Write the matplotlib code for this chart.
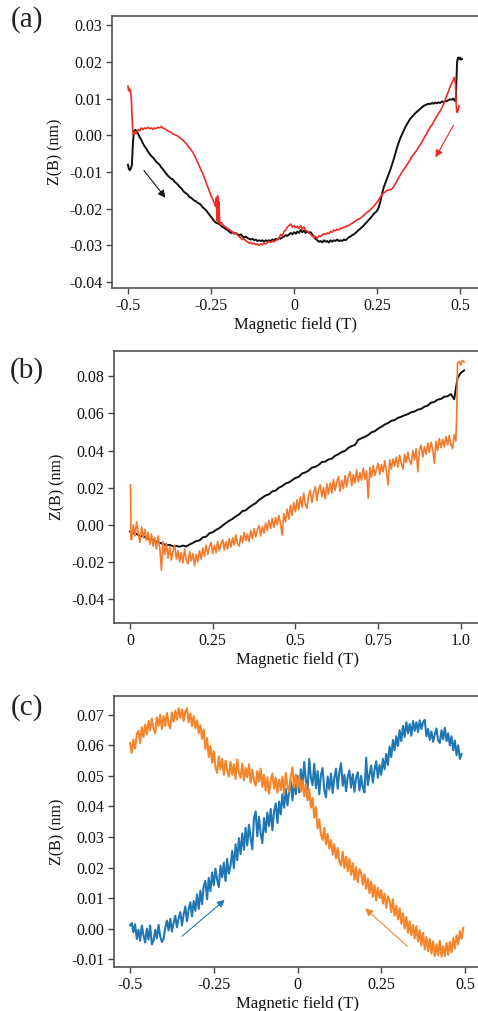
import numpy as np
import matplotlib
matplotlib.use("Agg")
import matplotlib.pyplot as plt

plt.rcParams['font.family'] = ['Liberation Serif', 'DejaVu Serif']
plt.rcParams['axes.unicode_minus'] = False

# ---------------- panel (a): field sweep between -0.5 T and 0.5 T ----------------
a_up_x = [-0.500, -0.497, -0.494, -0.491, -0.488, -0.485, -0.482, -0.478, -0.474, -0.470,
          -0.465, -0.460, -0.455, -0.450, -0.445, -0.440, -0.435, -0.430, -0.425, -0.420,
          -0.415, -0.410, -0.405, -0.400, -0.395, -0.390, -0.385, -0.380, -0.375, -0.370,
          -0.365, -0.360, -0.355, -0.350, -0.345, -0.340, -0.335, -0.330, -0.325, -0.320,
          -0.315, -0.310, -0.305, -0.300, -0.295, -0.290, -0.285, -0.280, -0.275, -0.270,
          -0.265, -0.260, -0.255, -0.250, -0.245, -0.240, -0.235, -0.230, -0.225, -0.220,
          -0.215, -0.210, -0.205, -0.200, -0.195, -0.190, -0.185, -0.180, -0.175, -0.170,
          -0.165, -0.160, -0.155, -0.150, -0.145, -0.140, -0.135, -0.130, -0.125, -0.120,
          -0.115, -0.110, -0.105, -0.100, -0.095, -0.090, -0.085, -0.080, -0.075, -0.070,
          -0.065, -0.060, -0.055, -0.050, -0.045, -0.040, -0.035, -0.030, -0.025, -0.020,
          -0.015, -0.010, -0.005, 0.000, 0.005, 0.010, 0.015, 0.020, 0.025, 0.030,
          0.035, 0.040, 0.045, 0.050, 0.055, 0.060, 0.065, 0.070, 0.075, 0.080,
          0.085, 0.090, 0.095, 0.100, 0.105, 0.110, 0.115, 0.120, 0.125, 0.130,
          0.135, 0.140, 0.145, 0.150, 0.155, 0.160, 0.165, 0.170, 0.175, 0.180,
          0.185, 0.190, 0.195, 0.200, 0.205, 0.210, 0.215, 0.220, 0.225, 0.230,
          0.235, 0.240, 0.245, 0.250, 0.255, 0.260, 0.265, 0.270, 0.275, 0.280,
          0.285, 0.290, 0.295, 0.300, 0.305, 0.310, 0.315, 0.320, 0.325, 0.330,
          0.335, 0.340, 0.345, 0.350, 0.355, 0.360, 0.365, 0.370, 0.375, 0.380,
          0.385, 0.390, 0.395, 0.400, 0.405, 0.410, 0.415, 0.420, 0.425, 0.430,
          0.435, 0.440, 0.445, 0.450, 0.455, 0.460, 0.465, 0.470, 0.475, 0.480,
          0.484, 0.487, 0.489, 0.491, 0.494, 0.497, 0.500, 0.503, 0.506]
a_up_z = [-0.0080, -0.0092, -0.0095, -0.0090, -0.0080, -0.0020, 0.0010, 0.0015, 0.0012, 0.0005,
          -0.0005, -0.0012, -0.0022, -0.0030, -0.0036, -0.0044, -0.0050, -0.0056, -0.0060, -0.0066,
          -0.0072, -0.0076, -0.0080, -0.0087, -0.0092, -0.0098, -0.0104, -0.0110, -0.0114, -0.0118,
          -0.0120, -0.0126, -0.0130, -0.0134, -0.0140, -0.0144, -0.0150, -0.0155, -0.0158, -0.0162,
          -0.0168, -0.0170, -0.0174, -0.0178, -0.0180, -0.0184, -0.0186, -0.0190, -0.0196, -0.0200,
          -0.0204, -0.0210, -0.0216, -0.0222, -0.0228, -0.0234, -0.0238, -0.0240, -0.0242, -0.0246,
          -0.0250, -0.0252, -0.0256, -0.0258, -0.0262, -0.0266, -0.0264, -0.0268, -0.0266, -0.0270,
          -0.0272, -0.0270, -0.0276, -0.0278, -0.0276, -0.0280, -0.0282, -0.0284, -0.0282, -0.0286,
          -0.0284, -0.0288, -0.0286, -0.0288, -0.0286, -0.0290, -0.0286, -0.0288, -0.0286, -0.0288,
          -0.0284, -0.0286, -0.0282, -0.0284, -0.0280, -0.0282, -0.0278, -0.0276, -0.0272, -0.0274,
          -0.0270, -0.0266, -0.0270, -0.0264, -0.0268, -0.0262, -0.0266, -0.0258, -0.0264, -0.0260,
          -0.0266, -0.0262, -0.0266, -0.0264, -0.0270, -0.0276, -0.0282, -0.0286, -0.0290, -0.0288,
          -0.0292, -0.0286, -0.0290, -0.0288, -0.0292, -0.0286, -0.0290, -0.0286, -0.0288, -0.0284,
          -0.0288, -0.0286, -0.0288, -0.0284, -0.0286, -0.0282, -0.0278, -0.0276, -0.0272, -0.0270,
          -0.0266, -0.0262, -0.0258, -0.0254, -0.0250, -0.0246, -0.0240, -0.0236, -0.0230, -0.0226,
          -0.0220, -0.0214, -0.0210, -0.0206, -0.0196, -0.0180, -0.0160, -0.0142, -0.0130, -0.0118,
          -0.0106, -0.0094, -0.0080, -0.0066, -0.0050, -0.0034, -0.0020, -0.0008, 0.0002, 0.0012,
          0.0022, 0.0030, 0.0038, 0.0045, 0.0050, 0.0055, 0.0060, 0.0064, 0.0068, 0.0072,
          0.0076, 0.0080, 0.0082, 0.0084, 0.0086, 0.0085, 0.0088, 0.0086, 0.0089, 0.0087,
          0.0090, 0.0088, 0.0092, 0.0090, 0.0094, 0.0093, 0.0096, 0.0098, 0.0097, 0.0100,
          0.0094, 0.0096, 0.0150, 0.0200, 0.0212, 0.0208, 0.0212, 0.0206, 0.0208]

a_down_x = [-0.500, -0.498, -0.496, -0.494, -0.492, -0.490, -0.488, -0.486, -0.484, -0.480,
            -0.476, -0.472, -0.468, -0.464, -0.460, -0.455, -0.450, -0.445, -0.440, -0.435,
            -0.430, -0.425, -0.420, -0.415, -0.410, -0.405, -0.400, -0.395, -0.390, -0.385,
            -0.380, -0.375, -0.370, -0.365, -0.360, -0.355, -0.350, -0.345, -0.340, -0.335,
            -0.330, -0.325, -0.320, -0.315, -0.310, -0.305, -0.300, -0.295, -0.290, -0.285,
            -0.280, -0.275, -0.270, -0.265, -0.260, -0.255, -0.250, -0.245, -0.242, -0.239,
            -0.236, -0.234, -0.232, -0.230, -0.228, -0.226, -0.224, -0.222, -0.218, -0.214,
            -0.210, -0.205, -0.200, -0.195, -0.190, -0.185, -0.180, -0.175, -0.170, -0.165,
            -0.160, -0.155, -0.150, -0.145, -0.140, -0.135, -0.130, -0.125, -0.120, -0.115,
            -0.110, -0.105, -0.100, -0.095, -0.090, -0.085, -0.080, -0.075, -0.070, -0.065,
            -0.060, -0.055, -0.050, -0.045, -0.040, -0.035, -0.030, -0.025, -0.020, -0.015,
            -0.010, -0.005, 0.000, 0.005, 0.010, 0.015, 0.020, 0.025, 0.030, 0.035,
            0.040, 0.045, 0.050, 0.055, 0.060, 0.065, 0.070, 0.075, 0.080, 0.085,
            0.090, 0.095, 0.100, 0.105, 0.110, 0.115, 0.120, 0.125, 0.130, 0.135,
            0.140, 0.145, 0.150, 0.155, 0.160, 0.165, 0.170, 0.175, 0.180, 0.185,
            0.190, 0.195, 0.200, 0.205, 0.210, 0.215, 0.220, 0.225, 0.230, 0.235,
            0.240, 0.245, 0.250, 0.255, 0.260, 0.265, 0.270, 0.275, 0.280, 0.285,
            0.290, 0.295, 0.300, 0.305, 0.310, 0.315, 0.320, 0.325, 0.330, 0.335,
            0.340, 0.345, 0.350, 0.355, 0.360, 0.365, 0.370, 0.375, 0.380, 0.385,
            0.390, 0.395, 0.400, 0.405, 0.410, 0.415, 0.420, 0.425, 0.430, 0.435,
            0.440, 0.445, 0.450, 0.455, 0.460, 0.465, 0.470, 0.475, 0.480, 0.483,
            0.486, 0.488, 0.490, 0.492, 0.495, 0.497]
a_down_z = [0.0134, 0.0122, 0.0128, 0.0118, 0.0122, 0.0100, 0.0060, 0.0020, 0.0002, 0.0008,
            0.0004, 0.0012, 0.0016, 0.0012, 0.0020, 0.0016, 0.0020, 0.0018, 0.0022, 0.0018,
            0.0020, 0.0016, 0.0020, 0.0018, 0.0022, 0.0020, 0.0024, 0.0020, 0.0018, 0.0016,
            0.0012, 0.0010, 0.0008, 0.0004, 0.0002, 0.0000, -0.0002, -0.0006, -0.0010, -0.0012,
            -0.0018, -0.0022, -0.0028, -0.0034, -0.0040, -0.0046, -0.0054, -0.0064, -0.0074, -0.0084,
            -0.0094, -0.0104, -0.0116, -0.0128, -0.0140, -0.0152, -0.0164, -0.0174, -0.0180, -0.0186,
            -0.0194, -0.0170, -0.0232, -0.0165, -0.0238, -0.0180, -0.0236, -0.0242, -0.0238, -0.0244,
            -0.0248, -0.0250, -0.0254, -0.0256, -0.0260, -0.0264, -0.0268, -0.0266, -0.0272, -0.0276,
            -0.0280, -0.0284, -0.0282, -0.0288, -0.0290, -0.0294, -0.0292, -0.0296, -0.0294, -0.0298,
            -0.0296, -0.0300, -0.0296, -0.0298, -0.0294, -0.0296, -0.0292, -0.0290, -0.0292, -0.0288,
            -0.0290, -0.0286, -0.0284, -0.0280, -0.0270, -0.0274, -0.0262, -0.0258, -0.0250, -0.0246,
            -0.0242, -0.0250, -0.0246, -0.0252, -0.0248, -0.0254, -0.0246, -0.0256, -0.0250, -0.0258,
            -0.0262, -0.0264, -0.0270, -0.0274, -0.0278, -0.0276, -0.0280, -0.0274, -0.0276, -0.0272,
            -0.0268, -0.0270, -0.0266, -0.0268, -0.0262, -0.0264, -0.0258, -0.0260, -0.0256, -0.0258,
            -0.0253, -0.0254, -0.0250, -0.0250, -0.0246, -0.0246, -0.0242, -0.0240, -0.0236, -0.0234,
            -0.0230, -0.0228, -0.0226, -0.0222, -0.0218, -0.0214, -0.0210, -0.0206, -0.0203, -0.0198,
            -0.0194, -0.0188, -0.0182, -0.0176, -0.0168, -0.0162, -0.0157, -0.0154, -0.0150, -0.0149,
            -0.0148, -0.0146, -0.0140, -0.0132, -0.0124, -0.0116, -0.0108, -0.0100, -0.0094, -0.0088,
            -0.0080, -0.0074, -0.0066, -0.0058, -0.0052, -0.0046, -0.0040, -0.0032, -0.0026, -0.0018,
            -0.0010, -0.0002, 0.0006, 0.0014, 0.0022, 0.0028, 0.0036, 0.0044, 0.0052, 0.0059,
            0.0066, 0.0074, 0.0084, 0.0096, 0.0108, 0.0120, 0.0132, 0.0142, 0.0152, 0.0158,
            0.0140, 0.0090, 0.0064, 0.0062, 0.0072, 0.0080]

# ---------------- panel (b): sweep between 0 T and 1 T ----------------
b_up_x = np.round(np.arange(0.0, 1.015, 0.01), 3)
b_up_z = [-0.0037, -0.0045, -0.0049, -0.0060, -0.0061, -0.0070, -0.0078, -0.0082, -0.0091, -0.0097,
          -0.0103, -0.0110, -0.0108, -0.0116, -0.0114, -0.0118, -0.0112, -0.0117, -0.0106, -0.0098,
          -0.0088, -0.0084, -0.0068, -0.0064, -0.0046, -0.0040, -0.0028, -0.0018, -0.0004, 0.0010,
          0.0022, 0.0032, 0.0046, 0.0056, 0.0074, 0.0078, 0.0094, 0.0106, 0.0116, 0.0134,
          0.0146, 0.0158, 0.0164, 0.0180, 0.0184, 0.0200, 0.0208, 0.0222, 0.0228, 0.0240,
          0.0252, 0.0258, 0.0276, 0.0282, 0.0292, 0.0308, 0.0312, 0.0322, 0.0338, 0.0340,
          0.0352, 0.0356, 0.0372, 0.0380, 0.0392, 0.0398, 0.0414, 0.0424, 0.0430, 0.0458,
          0.0466, 0.0474, 0.0484, 0.0498, 0.0504, 0.0518, 0.0528, 0.0540, 0.0548, 0.0560,
          0.0564, 0.0576, 0.0582, 0.0590, 0.0596, 0.0606, 0.0610, 0.0620, 0.0624, 0.0636,
          0.0642, 0.0658, 0.0662, 0.0674, 0.0678, 0.0690, 0.0692, 0.0704, 0.0676, 0.0790,
          0.0818, 0.0832]

b_down_x = np.concatenate([[0.0015, 0.003],
                           np.round(np.arange(0.005, 0.9875, 0.005), 4),
                           [0.988, 0.990, 0.995, 1.000, 1.005, 1.010]])
b_down_z = [0.0214, -0.0080,
            -0.0080, 0.0000, -0.0060, 0.0015, -0.0045, -0.0095, -0.0010, -0.0070, -0.0025, -0.0085,
            -0.0040, -0.0105, -0.0050, -0.0115, -0.0070, -0.0130, -0.0060, -0.0125, -0.0245, -0.0090,
            -0.0160, -0.0100, -0.0180, -0.0120, -0.0190, -0.0140, -0.0110, -0.0185, -0.0140, -0.0200,
            -0.0150, -0.0205, -0.0130, -0.0190, -0.0210, -0.0145, -0.0195, -0.0155, -0.0220, -0.0160,
            -0.0200, -0.0140, -0.0185, -0.0125, -0.0170, -0.0110, -0.0160, -0.0120, -0.0095, -0.0155,
            -0.0110, -0.0150, -0.0090, -0.0140, -0.0105, -0.0080, -0.0135, -0.0090, -0.0130, -0.0075,
            -0.0120, -0.0070, -0.0110, -0.0055, -0.0100, -0.0115, -0.0060, -0.0095, -0.0040, -0.0085,
            -0.0050, -0.0090, -0.0030, -0.0075, -0.0020, -0.0065, -0.0025, -0.0005, -0.0060, -0.0010,
            -0.0045, 0.0010, -0.0030, 0.0025, -0.0020, 0.0035, -0.0015, 0.0040, 0.0000, 0.0050,
            0.0005, -0.0055, 0.0060, 0.0015, 0.0085, 0.0030, 0.0105, 0.0050, 0.0120, 0.0070,
            0.0135, 0.0080, 0.0150, 0.0095, 0.0170, 0.0110, 0.0090, 0.0160, 0.0185, 0.0120,
            0.0175, 0.0205, 0.0130, 0.0190, 0.0215, 0.0150, 0.0200, 0.0140, 0.0220, 0.0165,
            0.0225, 0.0170, 0.0245, 0.0185, 0.0230, 0.0260, 0.0180, 0.0240, 0.0195, 0.0265,
            0.0205, 0.0260, 0.0285, 0.0210, 0.0270, 0.0225, 0.0295, 0.0230, 0.0280, 0.0240,
            0.0305, 0.0245, 0.0290, 0.0143, 0.0310, 0.0255, 0.0320, 0.0265, 0.0300, 0.0330,
            0.0270, 0.0325, 0.0285, 0.0345, 0.0290, 0.0214, 0.0350, 0.0300, 0.0355, 0.0315,
            0.0365, 0.0310, 0.0375, 0.0330, 0.0300, 0.0380, 0.0335, 0.0390, 0.0345, 0.0325,
            0.0400, 0.0350, 0.0410, 0.0286, 0.0405, 0.0430, 0.0365, 0.0420, 0.0380, 0.0440,
            0.0390, 0.0445, 0.0405, 0.0331, 0.0450, 0.0400, 0.0465, 0.0415, 0.0460, 0.0420,
            0.0475, 0.0430, 0.0480, 0.0435, 0.0410, 0.0485, 0.0450,
            0.0620, 0.0870, 0.0880, 0.0860, 0.0885, 0.0878]

# ---------------- panel (c): sweep between -0.5 T and 0.5 T ----------------
c_up_z = [0.0010, 0.0018, -0.0012, 0.0014, -0.0034, -0.0004, -0.0040, 0.0010, -0.0022, -0.0046,
          0.0000, -0.0036, 0.0010, -0.0052, -0.0040, -0.0004, -0.0032, 0.0012, -0.0026, -0.0044,
          -0.0034, 0.0002, 0.0026, -0.0006, 0.0032, -0.0010, 0.0018, 0.0042, 0.0004, 0.0034,
          0.0054, 0.0010, 0.0046, 0.0072, 0.0024, 0.0064, 0.0086, 0.0040, 0.0090, 0.0058,
          0.0112, 0.0064, 0.0124, 0.0080, 0.0140, 0.0156, 0.0096, 0.0166, 0.0122, 0.0184,
          0.0142, 0.0196, 0.0160, 0.0136, 0.0206, 0.0168, 0.0216, 0.0156, 0.0228, 0.0180,
          0.0206, 0.0254, 0.0198, 0.0276, 0.0224, 0.0296, 0.0244, 0.0312, 0.0258, 0.0330,
          0.0272, 0.0340, 0.0296, 0.0260, 0.0362, 0.0384, 0.0302, 0.0366, 0.0312, 0.0280,
          0.0362, 0.0316, 0.0380, 0.0336, 0.0392, 0.0322, 0.0384, 0.0410, 0.0346, 0.0416,
          0.0374, 0.0440, 0.0396, 0.0458, 0.0404, 0.0448, 0.0482, 0.0420, 0.0488, 0.0440,
          0.0500, 0.0446, 0.0522, 0.0466, 0.0546, 0.0484, 0.0456, 0.0556, 0.0494, 0.0470,
          0.0540, 0.0460, 0.0516, 0.0440, 0.0504, 0.0526, 0.0452, 0.0430, 0.0498, 0.0456,
          0.0508, 0.0444, 0.0494, 0.0524, 0.0458, 0.0512, 0.0542, 0.0468, 0.0504, 0.0450,
          0.0498, 0.0518, 0.0462, 0.0506, 0.0448, 0.0494, 0.0512, 0.0452, 0.0500, 0.0462,
          0.0446, 0.0560, 0.0470, 0.0506, 0.0534, 0.0478, 0.0520, 0.0548, 0.0494, 0.0536,
          0.0504, 0.0556, 0.0522, 0.0572, 0.0536, 0.0596, 0.0562, 0.0618, 0.0584, 0.0630,
          0.0598, 0.0650, 0.0614, 0.0664, 0.0628, 0.0676, 0.0640, 0.0670, 0.0632, 0.0680,
          0.0648, 0.0676, 0.0644, 0.0682, 0.0654, 0.0676, 0.0684, 0.0630, 0.0654, 0.0618,
          0.0646, 0.0612, 0.0636, 0.0656, 0.0616, 0.0608, 0.0650, 0.0620, 0.0658, 0.0614,
          0.0640, 0.0600, 0.0630, 0.0584, 0.0616, 0.0568, 0.0600, 0.0556, 0.0572]
c_up_x = np.round(-0.5 + 0.005 * np.arange(len(c_up_z)), 4)

c_down_z = [0.0608, 0.0576, 0.0620, 0.0590, 0.0636, 0.0648, 0.0608, 0.0660, 0.0628, 0.0668,
            0.0636, 0.0680, 0.0650, 0.0688, 0.0656, 0.0640, 0.0692, 0.0664, 0.0700, 0.0654,
            0.0696, 0.0664, 0.0706, 0.0670, 0.0656, 0.0708, 0.0678, 0.0714, 0.0684, 0.0722,
            0.0690, 0.0718, 0.0680, 0.0710, 0.0722, 0.0676, 0.0704, 0.0664, 0.0696, 0.0656,
            0.0682, 0.0640, 0.0666, 0.0622, 0.0652, 0.0588, 0.0624, 0.0562, 0.0598, 0.0544,
            0.0582, 0.0528, 0.0510, 0.0564, 0.0522, 0.0556, 0.0504, 0.0550, 0.0518, 0.0498,
            0.0546, 0.0504, 0.0538, 0.0490, 0.0554, 0.0512, 0.0494, 0.0540, 0.0486, 0.0526,
            0.0496, 0.0538, 0.0478, 0.0520, 0.0486, 0.0468, 0.0516, 0.0482, 0.0524, 0.0464,
            0.0504, 0.0452, 0.0496, 0.0442, 0.0486, 0.0508, 0.0458, 0.0494, 0.0446, 0.0488,
            0.0454, 0.0498, 0.0442, 0.0510, 0.0466, 0.0448, 0.0500, 0.0528, 0.0462, 0.0504,
            0.0460, 0.0498, 0.0448, 0.0486, 0.0434, 0.0474, 0.0420, 0.0456, 0.0396, 0.0428,
            0.0364, 0.0398, 0.0328, 0.0358, 0.0308, 0.0290, 0.0330, 0.0276, 0.0310, 0.0262,
            0.0290, 0.0242, 0.0276, 0.0230, 0.0264, 0.0218, 0.0206, 0.0252, 0.0198, 0.0236,
            0.0188, 0.0228, 0.0176, 0.0214, 0.0160, 0.0202, 0.0152, 0.0194, 0.0182, 0.0144,
            0.0178, 0.0130, 0.0164, 0.0116, 0.0154, 0.0104, 0.0142, 0.0092, 0.0134, 0.0100,
            0.0126, 0.0082, 0.0114, 0.0068, 0.0106, 0.0090, 0.0054, 0.0096, 0.0042, 0.0074,
            0.0030, 0.0066, 0.0016, 0.0050, 0.0000, 0.0038, -0.0014, 0.0024, -0.0022, 0.0012,
            -0.0032, 0.0008, -0.0042, -0.0006, -0.0056, -0.0014, -0.0068, -0.0028, -0.0074, -0.0034,
            -0.0082, -0.0042, -0.0090, -0.0052, -0.0088, -0.0040, -0.0092, -0.0058, -0.0090, -0.0048,
            -0.0086, -0.0044, -0.0078, -0.0032, -0.0066, -0.0022, -0.0052, -0.0008, -0.0034, 0.0002]
c_down_x = np.round(-0.5 + 0.005 * np.arange(len(c_down_z)), 4)

# tick values and their printed labels
ab_xticks = [-0.5, -0.25, 0.0, 0.25, 0.5]
ab_xlabels = ['-0.5', '-0.25', '0', '0.25', '0.5']
a_yticks = [-0.04, -0.03, -0.02, -0.01, 0.00, 0.01, 0.02, 0.03]
b_xticks = [0.0, 0.25, 0.5, 0.75, 1.0]
b_xlabels = ['0', '0.25', '0.5', '0.75', '1.0']
b_yticks = [-0.04, -0.02, 0.00, 0.02, 0.04, 0.06, 0.08]
c_yticks = [-0.01, 0.00, 0.01, 0.02, 0.03, 0.04, 0.05, 0.06, 0.07]

# colours
BLACK = '#111111'
RED = '#ef2b26'
ORANGE_B = '#f47a2c'
BLUE = '#1f77b4'
ORANGE_C = '#f5852a'
SPINE = '#444444'

W, H = 478, 1011
fig = plt.figure(figsize=(W / 100, H / 100), dpi=100)


def make_axes(left, top, bottom, right=480):
    return fig.add_axes([left / W, 1 - bottom / H, (right - left) / W, (bottom - top) / H])


def style(ax, xticks, xlabels, yticks):
    for side in ('left', 'bottom', 'top', 'right'):
        ax.spines[side].set_color(SPINE)
        ax.spines[side].set_linewidth(1.1)
    ax.set_xticks(xticks)
    ax.set_xticklabels(xlabels)
    ax.set_yticks(yticks)
    ax.set_yticklabels([f'{v:.2f}' for v in yticks])
    ax.tick_params(direction='out', length=4, width=1.0, color=SPINE,
                   labelsize=11.5, pad=3, labelcolor='#111111')
    ax.set_xlabel('Magnetic field (T)', fontsize=12, labelpad=2, color='#111111')
    ax.set_ylabel('Z(B) (nm)', fontsize=11.5, labelpad=4, color='#111111')


# (a)
ax1 = make_axes(112, 16, 288)
ax1.plot(a_up_x, a_up_z, color=BLACK, lw=1.4)
ax1.plot(a_down_x, a_down_z, color=RED, lw=1.2)
ax1.set_xlim(-0.548, 0.56)
ax1.set_ylim(-0.0416, 0.0325)
style(ax1, ab_xticks, ab_xlabels, a_yticks)
ax1.annotate('', xy=(-0.382, -0.0176), xytext=(-0.457, -0.0090),
             arrowprops=dict(arrowstyle='-|>', color=BLACK, lw=0.8, mutation_scale=11))
ax1.annotate('', xy=(0.422, -0.0067), xytext=(0.484, 0.0034),
             arrowprops=dict(arrowstyle='-|>', color=RED, lw=0.8, mutation_scale=11))

# (b)
ax2 = make_axes(114, 351, 623)
ax2.plot(b_up_x, b_up_z, color=BLACK, lw=1.4)
ax2.plot(b_down_x, b_down_z, color=ORANGE_B, lw=1.2)
ax2.set_xlim(-0.0484, 1.058)
ax2.set_ylim(-0.0529, 0.0936)
style(ax2, b_xticks, b_xlabels, b_yticks)

# (c)
ax3 = make_axes(114, 696, 967)
ax3.plot(c_up_x, c_up_z, color=BLUE, lw=1.5)
ax3.plot(c_down_x, c_down_z, color=ORANGE_C, lw=1.5)
ax3.set_xlim(-0.548, 0.545)
ax3.set_ylim(-0.0126, 0.0762)
style(ax3, ab_xticks, ab_xlabels, c_yticks)
ax3.annotate('', xy=(-0.211, 0.0100), xytext=(-0.351, -0.0031),
             arrowprops=dict(arrowstyle='-|>', color=BLUE, lw=0.8, mutation_scale=11))
ax3.annotate('', xy=(0.196, 0.0072), xytext=(0.334, -0.0064),
             arrowprops=dict(arrowstyle='-|>', color=ORANGE_C, lw=0.8, mutation_scale=11))

# panel letters
for label, ypix in (('(a)', 20), ('(b)', 371), ('(c)', 708)):
    fig.text(27 / W, 1 - ypix / H, label, fontsize=21, ha='center', va='center', color='#222222')

fig.savefig('out.png', dpi=100)
